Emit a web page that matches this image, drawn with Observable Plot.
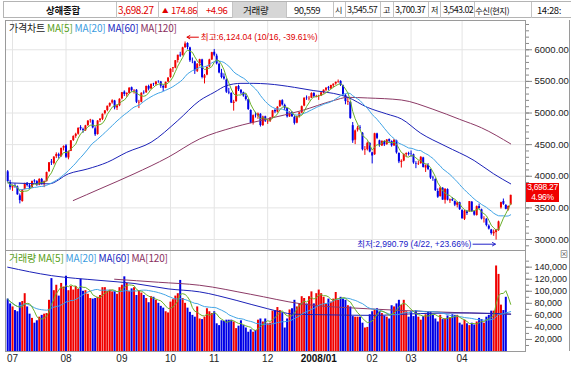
<!DOCTYPE html>
<html><head><meta charset="utf-8">
<script src="https://cdn.jsdelivr.net/npm/d3@7"></script>
<script src="https://cdn.jsdelivr.net/npm/@observablehq/plot@0.6"></script>
<style>
body{margin:0;background:#fff;}
#root{position:relative;width:571px;height:366px;overflow:hidden;font-family:"Liberation Sans","Noto Sans CJK KR",sans-serif;background:#fff;}
.abs{position:absolute;white-space:nowrap;}
.ht{position:absolute;top:3px;height:14px;line-height:14px;white-space:nowrap;font-family:"Noto Sans CJK KR",sans-serif;}
.vl{position:absolute;top:2px;width:1px;height:16px;background:#c4c4c4;}
.leg{position:absolute;font-size:10px;line-height:12px;white-space:nowrap;letter-spacing:-0.2px;font-family:"Noto Sans CJK KR",sans-serif;}
.tag{position:absolute;left:0;width:33px;height:9.5px;line-height:9.5px;font-size:8.5px;letter-spacing:-0.3px;text-align:center;color:#fff;}
</style></head><body>
<div id="root">
  <div id="hdr" class="abs" style="left:0;top:0;width:571px;height:20px;"></div>
  <div id="price" class="abs" style="left:0;top:20px;"></div>
  <div id="vol" class="abs" style="left:0;top:250px;"></div>
  <div class="abs" style="left:569px;top:20px;width:1px;height:331px;background:#9a9a9a;"></div>
  <div class="leg" style="left:9px;top:22px;"><span style="color:#222">가격차트</span> <span style="color:#58a020">MA[5]</span> <span style="color:#3c9ce0">MA[20]</span> <span style="color:#1a28c0">MA[60]</span> <span style="color:#8a3060">MA[120]</span></div>
  <div class="leg" style="left:9px;top:252px;"><span style="color:#58a020">거래량</span> <span style="color:#58a020">MA[5]</span> <span style="color:#3c9ce0">MA[20]</span> <span style="color:#1a28c0">MA[60]</span> <span style="color:#8a3060">MA[120]</span></div>
  <div class="abs" style="left:526px;top:183px;width:33px;height:19px;background:#f00000;">
    <div class="tag" style="top:0;">3,698.27</div>
    <div class="tag" style="top:9.5px;">4.96%</div>
  </div>
  <div class="abs" style="left:560px;top:250px;font-size:8px;line-height:9px;color:#555;">⊠</div>
</div>
<script>
// ---- header values ----
const headerName = "상해종합";
const headerLast = "3,698.27";
const headerArrow = "▲";
const headerChange = "174.86";
const headerPct = "+4.96";
const headerVolLabel = "거래량";
const headerVol = "90,559";
const headerOpen = ["시", "3,545.57"];
const headerHigh = ["고", "3,700.37"];
const headerLow = ["저", "3,543.02"];
const headerSrc = "수신(현지)";
const headerTime = "14:28:";

// ---- daily candles (Jun 28 2007 .. Apr 30 2008) ----
const open = [4070,3900,3815,3850,3830,3690,3600,3790,3890,3850,3815,3925,3915,3860,3950,3870,3915,4070,4225,4200,4310,4340,4310,4445,
4480,4290,4395,4565,4630,4665,4770,4740,4720,4800,4880,4880,4750,4660,4880,4900,4990,5040,5110,5160,5190,5080,5115,
5225,5330,5290,5310,5400,5350,5360,5160,5170,5320,5320,5420,5380,5460,5450,5500,5490,5420,5390,5490,
5560,5700,5710,5830,5915,5910,6035,6100,6030,5820,5810,5660,5780,5840,5550,5600,5730,5840,
5960,5900,5770,5630,5570,5520,5330,5310,5150,5180,5420,5360,5320,5260,5210,5040,4840,4965,4950,4980,4800,4940,
4860,4870,4920,5040,5015,5100,5195,5120,5070,4940,5010,4930,4840,4945,5000,5110,5240,5225,5235,5310,5255,
5265,5270,5320,5360,5400,5380,5430,5460,5490,5500,5430,5280,5170,5170,4800,4570,4730,4770,4680,4410,4420,4520,
4370,4340,4670,4560,4480,4550,4500,4580,4550,4480,4560,4360,4220,4240,4340,4360,
4350,4340,4200,4190,4200,4290,4130,4170,4100,3970,3950,3760,3680,3810,3620,3790,3610,3630,3600,3540,3580,
3460,3320,3440,3440,3590,3440,3380,3520,3470,3320,3320,3210,3150,3090,3110,3140,3500,3600,3540,3470,3545.57];
const high = [4090,3935,3860,3880,3845,3720,3790,3890,3900,3870,3925,3945,3930,3960,3965,3925,4065,4215,4265,4310,4370,4365,4445,4480,
4500,4400,4565,4640,4680,4765,4800,4760,4805,4880,4900,4890,4780,4880,4910,4985,5040,5110,5160,5210,5200,5130,5225,
5325,5350,5320,5400,5410,5370,5370,5200,5320,5350,5425,5440,5460,5470,5500,5510,5500,5440,5490,5560,
5700,5720,5830,5915,5960,6040,6124,6110,6040,5870,5820,5780,5850,5850,5610,5730,5850,5960,
6005,5930,5790,5690,5620,5540,5390,5320,5200,5420,5440,5370,5330,5300,5215,5050,4970,5010,5000,4990,4950,4950,
4900,4930,5040,5060,5100,5200,5210,5140,5075,5020,5020,4950,4950,5010,5110,5240,5270,5260,5320,5320,5280,
5280,5325,5365,5400,5420,5440,5460,5490,5522,5510,5440,5290,5240,5180,4850,4730,4790,4800,4690,4470,4540,4530,
4380,4680,4680,4570,4560,4560,4580,4590,4560,4580,4570,4370,4260,4350,4370,4380,
4400,4350,4230,4240,4310,4300,4180,4200,4110,4000,3960,3800,3830,3820,3800,3800,3640,3660,3610,3590,3590,
3470,3460,3460,3600,3600,3450,3530,3560,3480,3360,3330,3230,3160,3150,3160,3290,3590,3640,3550,3530,3700.37];
const low = [3900,3780,3760,3810,3700,3563,3590,3785,3830,3790,3810,3890,3840,3850,3860,3820,3910,4065,4170,4180,4280,4270,4300,4400,
4280,4260,4390,4550,4600,4650,4720,4680,4710,4790,4840,4750,4630,4650,4850,4880,4970,5020,5090,5140,5050,5040,5100,
5210,5260,5250,5300,5330,5300,5150,5070,5160,5290,5310,5350,5370,5420,5430,5470,5390,5340,5385,5480,
5550,5640,5700,5790,5880,5900,6020,6000,5800,5780,5610,5640,5730,5540,5460,5590,5720,5830,
5890,5760,5620,5540,5520,5310,5290,5150,5030,5170,5340,5290,5250,5190,5040,4830,4810,4920,4900,4778,4790,4850,
4820,4850,4910,4990,5000,5090,5110,5040,4920,4930,4930,4810,4830,4920,4990,5100,5200,5190,5230,5240,5240,
5200,5260,5300,5340,5350,5370,5400,5440,5470,5420,5270,5130,5120,4900,4520,4500,4700,4720,4400,4330,4400,4370,
4195,4330,4580,4460,4470,4470,4490,4530,4460,4470,4350,4200,4130,4230,4300,4320,
4300,4190,4120,4170,4190,4130,4060,4090,3950,3920,3760,3650,3670,3620,3560,3610,3570,3600,3520,3500,3460,
3320,3300,3380,3430,3430,3370,3370,3480,3310,3260,3200,3150,3070,3050,2990.79,3130,3480,3540,3470,3450,3543.02];
const close = [3914,3820,3836,3837,3706,3615,3781,3883,3853,3818,3916,3914,3863,3951,3875,3913,4058,4213,4210,4302,4345,4316,4440,4471,
4300,4389,4560,4628,4663,4758,4749,4726,4797,4872,4888,4765,4656,4873,4904,4980,5033,5107,5150,5194,5081,5111,5218,
5321,5294,5310,5393,5355,5356,5170,5169,5312,5315,5421,5378,5452,5454,5490,5497,5425,5394,5485,5552,
5692,5715,5827,5913,5903,6030,6092,6036,5826,5819,5667,5773,5843,5562,5589,5721,5840,5954,
5914,5777,5634,5561,5538,5330,5316,5158,5171,5412,5368,5316,5269,5214,5056,4838,4958,4958,4984,4803,4937,4871,
4868,4918,5035,5018,5091,5191,5128,5078,4940,5007,4941,4836,4941,5002,5101,5234,5235,5232,5307,5261,5262,
5272,5319,5361,5393,5386,5435,5456,5485,5497,5443,5291,5181,5180,4914,4559,4717,4761,4761,4419,4418,4521,4383,
4320,4672,4599,4490,4552,4497,4573,4552,4482,4570,4370,4228,4237,4346,4358,4348,
4345,4211,4192,4197,4300,4139,4165,4108,3972,3962,3771,3669,3815,3623,3796,3622,3626,3611,3544,3580,3472,
3329,3446,3411,3599,3444,3386,3519,3491,3324,3325,3222,3165,3095,3116,3147,3278,3583,3557,3478,3523,3698.27];
// volume, thousands
const volume = [87,79,74,68,66,81,83,96,74,62,55,47,51,57,60,62,63,85,121,101,110,92,113,107,
125,101,108,102,108,103,120,100,101,95,88,87,88,90,93,106,106,100,102,99,100,95,106,
110,124,113,100,104,106,93,101,97,93,88,81,91,90,85,80,75,72,66,64,
82,86,92,96,118,88,80,72,65,60,57,
74,54,53,57,71,66,63,66,46,43,51,50,52,52,52,49,38,42,51,43,39,32,36,32,35,52,54,
49,54,46,47,67,68,73,68,63,39,54,69,71,85,74,79,91,88,79,91,99,
79,96,102,96,90,79,87,82,87,98,85,90,87,85,76,74,58,57,57,57,47,39,
40,61,66,69,71,66,63,59,57,54,76,74,79,85,77,85,
66,57,66,58,68,57,52,58,61,66,65,60,54,49,60,53,54,59,56,61,60,
60,47,44,52,46,43,47,44,49,55,53,47,57,60,67,67,142,128,77,68,90];

// ---- read-off moving averages (index, value) ----
const priceMA60Idx = [0,17,25,33,41,49,59,70,79,85,90,96,101,107,118,126,134,140,148,156,162,170,180,192,200,207];
const priceMA60Val = [3896,3880,4038,4117,4221,4379,4537,4880,5196,5327,5432,5469,5469,5460,5406,5354,5311,5248,5090,4985,4907,4680,4480,4248,4038,3880];
const priceMA120Idx = [27,38,52,66,79,93,107,121,134,140,148,162,175,186,195,207];
const priceMA120Val = [3616,3801,4038,4300,4590,4774,4907,5038,5196,5248,5238,5206,5060,4900,4766,4512];
const volMA60Idx = [0,18,38,52,66,79,94,107,118,130,150,170,190,207];
const volMA60Val = [140,126,118,113,104,99,85,71,62,61,60,63,64,62];
const volMA120Idx = [44,62,79,100,121,148,175,207];
const volMA120Val = [120,115,110,95,79,71,66,62];

// ---- axis ticks ----
const monthTickIdx = [2,24,47,67,85,107,128,150,166,187];
const monthTickLabel = ["07","08","09","10","11","12","2008/01","02","03","04"];
const priceTicks = [3000,3500,4000,4500,5000,5500,6000];
const volTicks = [20000,40000,60000,80000,100000,120000,140000];
const peak = {idx:73, label:"최고:6,124.04 (10/16, -39.61%)"};
const trough = {idx:201, label:"최저:2,990.79 (4/22, +23.66%)"};

// ---- colors ----
const UP = "#f00000", DOWN = "#0000e6";
const C5 = "#6ab02a", C20 = "#40a4e6", C60 = "#1c22b8", C120 = "#8c3a66";
const GRID = "#e4e4e4", FRAME = "#9a9a9a";

// ---- header ----
const hdr = document.getElementById("hdr");
function ht(x, text, o={}) {
  const d = document.createElement("div");
  d.className = "ht";
  d.style.left = x + "px";
  d.style.fontSize = (o.size || 9.5) + "px";
  d.style.letterSpacing = (o.ls ?? -0.5) + "px";
  d.style.color = o.color || "#111";
  if (o.bold) d.style.fontWeight = "bold";
  d.textContent = text;
  hdr.appendChild(d);
}
function vl(x) { const d = document.createElement("div"); d.className = "vl"; d.style.left = x + "px"; hdr.appendChild(d); }
{
  const top = document.createElement("div");
  top.style.cssText = "position:absolute;left:3px;top:1px;width:568px;height:17px;border-top:1px solid #b4b4b4;border-bottom:1px solid #b4b4b4;border-left:1px solid #b4b4b4;box-sizing:border-box;";
  hdr.appendChild(top);
  const btn = document.createElement("div");
  btn.style.cssText = "position:absolute;left:233px;top:2px;width:53px;height:16px;background:#d6d6d6;";
  hdr.appendChild(btn);
}
[116,158,197,232,286,333,345,380,393,428,440,474,531].forEach(vl);
ht(46, headerName, {bold:true, size:9.5, ls:-0.2});
ht(118, headerLast, {color:"#e00000", size:10, ls:-0.4});
ht(162, headerArrow, {color:"#e00000", size:6.5, ls:0});
ht(171, headerChange, {color:"#e00000", size:9.5, ls:-0.5});
ht(206, headerPct, {color:"#e00000", size:9.5, ls:-0.5});
ht(243, headerVolLabel, {size:9.5, ls:-0.3});
ht(294, headerVol, {size:9.5, ls:-0.5});
ht(335, headerOpen[0], {size:8, ls:0});
ht(347, headerOpen[1], {size:9, ls:-0.6});
ht(383, headerHigh[0], {size:8, ls:0});
ht(395, headerHigh[1], {size:9, ls:-0.6});
ht(431, headerLow[0], {size:8, ls:0});
ht(443, headerLow[1], {size:9, ls:-0.6});
ht(475, headerSrc, {size:8.5, ls:-0.5});
ht(537, headerTime, {size:9.5, ls:-0.4});

// ---- data rows ----
const N = close.length;
const rows = d3.range(N).map(i => ({i, o:open[i], h:high[i], l:low[i], c:close[i], v:volume[i]*1000,
  col: close[i] >= open[i] ? UP : DOWN}));
const xDomain = [-0.9, 213.1];
const font = "'Liberation Sans', 'Noto Sans CJK KR', sans-serif";
const pairs = (I, V, k=1) => I.map((i,j)=>({i, v:V[j]*k}));
const boldIdx = [monthTickIdx[6]];
const plainIdx = monthTickIdx.filter((d,j) => j !== 6);

const pricePlot = Plot.plot({
  width: 571, height: 230, marginLeft: 5, marginRight: 46, marginTop: 0, marginBottom: 0,
  x: {type:"linear", domain: xDomain, axis: null},
  y: {domain: [2826, 6463], axis: null},
  color: {type: "identity"},
  style: {fontFamily: font, fontSize: "9.5px", overflow: "visible", background: "transparent"},
  marks: [
    Plot.ruleX(monthTickIdx, {stroke: GRID}),
    Plot.ruleY(priceTicks, {stroke: GRID}),
    Plot.ruleX(rows, {x:"i", y1:"l", y2:"h", stroke:"col", strokeWidth:1}),
    Plot.ruleX(rows, {x:"i", y1:"o", y2:"c", stroke:"col", strokeWidth:2}),
    Plot.line(pairs(priceMA120Idx, priceMA120Val), {x:"i", y:"v", stroke:C120, strokeWidth:1, curve:"monotone-x"}),
    Plot.line(pairs(priceMA60Idx, priceMA60Val), {x:"i", y:"v", stroke:C60, strokeWidth:1, curve:"monotone-x"}),
    Plot.lineY(rows, Plot.windowY({k:20, anchor:"end", reduce:"mean"}, {x:"i", y:"c", stroke:C20, strokeWidth:1})),
    Plot.lineY(rows, Plot.windowY({k:5, anchor:"end", reduce:"mean"}, {x:"i", y:"c", stroke:C5, strokeWidth:1})),
    Plot.arrow([rows[peak.idx]], {x1: d=>d.i+5.5, y1: d=>d.h+75, x2: d=>d.i+0.8, y2: d=>d.h+75, stroke: "#e00000", strokeWidth:1, headLength:5}),
    Plot.text([rows[peak.idx]], {x: d=>d.i+6.5, y: d=>d.h+75, text: ()=>peak.label, fill:"#e00000", textAnchor:"start", fontSize:8.5, letterSpacing:-0.6}),
    Plot.arrow([rows[trough.idx]], {x1: d=>d.i-9.5, y1: d=>d.l-65, x2: d=>d.i-0.3, y2: d=>d.l-65, stroke: "#2020c8", strokeWidth:1, headLength:5}),
    Plot.text([rows[trough.idx]], {x: d=>d.i-10.2, y: d=>d.l-65, text: ()=>trough.label, fill:"#2020c8", textAnchor:"end", fontSize:8.5, letterSpacing:-0.6}),
    Plot.axisY({anchor:"right", ticks: d3.range(2900, 6500, 100), tickSize:3, tickFormat: () => "", stroke:"#888", label:null}),
    Plot.axisY({anchor:"right", ticks: priceTicks, tickSize:6, tickPadding:3, tickFormat: d => d.toFixed(2), fill:"#222", stroke:"#888", label:null, fontSize:9.5, letterSpacing:-0.3}),
    Plot.frame({stroke: FRAME})
  ]
});
document.getElementById("price").appendChild(pricePlot);

const volPlot = Plot.plot({
  width: 571, height: 116, marginLeft: 5, marginRight: 46, marginTop: 0, marginBottom: 15,
  x: {type:"linear", domain: xDomain, axis: null},
  y: {domain: [0, 167700], axis: null},
  color: {type: "identity"},
  style: {fontFamily: font, fontSize: "9.5px", overflow: "visible", background: "transparent"},
  marks: [
    Plot.ruleX(monthTickIdx, {stroke: GRID}),
    Plot.ruleX(rows, {x:"i", y1:0, y2:"v", stroke:"col", strokeWidth:2}),
    Plot.line(pairs(volMA120Idx, volMA120Val, 1000), {x:"i", y:"v", stroke:C120, strokeWidth:1, curve:"monotone-x"}),
    Plot.line(pairs(volMA60Idx, volMA60Val, 1000), {x:"i", y:"v", stroke:C60, strokeWidth:1, curve:"monotone-x"}),
    Plot.lineY(rows, Plot.windowY({k:20, anchor:"end", reduce:"mean"}, {x:"i", y:"v", stroke:C20, strokeWidth:1})),
    Plot.lineY(rows, Plot.windowY({k:5, anchor:"end", reduce:"mean"}, {x:"i", y:"v", stroke:C5, strokeWidth:1})),
    Plot.axisY({anchor:"right", ticks: d3.range(10000, 160000, 10000), tickSize:3, tickFormat: () => "", stroke:"#888", label:null}),
    Plot.axisY({anchor:"right", ticks: volTicks, tickSize:6, tickPadding:3, tickFormat: d => d3.format(",")(d), fill:"#222", stroke:"#888", label:null, fontSize:9, letterSpacing:-0.2}),
    Plot.axisX({anchor:"bottom", ticks: plainIdx, tickSize:0, tickPadding:3, tickFormat: (d) => monthTickLabel[monthTickIdx.indexOf(d)], fill:"#222", fontSize:10, label:null}),
    Plot.axisX({anchor:"bottom", ticks: boldIdx, tickSize:0, tickPadding:3, tickFormat: (d) => monthTickLabel[monthTickIdx.indexOf(d)], fill:"#111", fontSize:10, fontWeight:"bold", label:null}),
    Plot.frame({stroke: FRAME})
  ]
});
document.getElementById("vol").appendChild(volPlot);
</script>
</body></html>
